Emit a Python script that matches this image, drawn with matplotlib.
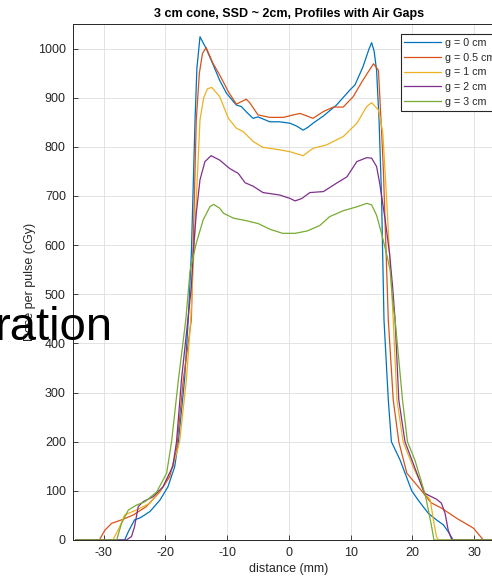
import matplotlib
matplotlib.use("Agg")
import matplotlib.pyplot as plt

plt.rcParams['font.family'] = ['Liberation Sans', 'DejaVu Sans']
plt.rcParams['axes.unicode_minus'] = False

title = "3 cm cone, SSD ~ 2cm, Profiles with Air Gaps"
xlabel = "distance (mm)"
ylabel = "Dose per pulse (cGy)"
labels = ["g = 0 cm", "g = 0.5 cm", "g = 1 cm", "g = 2 cm", "g = 3 cm"]
colors = ["#0072BD", "#D95319", "#EDB120", "#7E2F8E", "#77AC30"]
xticks = [-30, -20, -10, 0, 10, 20, 30]
yticks = [0, 100, 200, 300, 400, 500, 600, 700, 800, 900, 1000]

x_g0 = [-34.5, -26.6, -26.0, -25.0, -24.1, -22.5, -20.9, -19.6, -18.5, -17.9, -16.9, -16.3,
        -15.8, -15.5, -15.2, -14.9, -14.4, -13.4, -12.3, -11.2, -10.1, -8.5, -7.7, -6.8,
        -5.8, -5.0, -3.1, -1.5, 0.2, 1.3, 2.3, 3.1, 3.9, 5.6, 7.7, 9.9, 10.7, 12.0, 13.0,
        13.4, 13.8, 14.2, 14.6, 15.0, 15.4, 16.1, 16.6, 18.0, 19.9, 21.0, 22.6, 24.0, 25.0,
        25.8, 26.6, 34.5]
y_g0 = [0, 0, 17, 41, 45, 58, 81, 108, 149, 200, 326, 448,
        583, 719, 855, 960, 1024, 1000, 968, 935, 909, 885, 882, 870,
        858, 861, 851, 851, 848, 842, 834, 840, 848, 863, 885, 916, 926, 963, 1000,
        1012, 995, 956, 855, 700, 448, 285, 200, 163, 100, 80, 54, 40, 31,
        17, 0, 0]

x_g05 = [-34.5, -30.7, -29.8, -28.7, -27.1, -25.2, -23.1, -20.9, -19.3, -18.2, -17.1, -15.8,
         -15.0, -14.5, -14.0, -13.4, -12.3, -11.2, -9.8, -8.5, -7.7, -6.9, -6.3, -5.0,
         -3.1, -0.9, 0.7, 1.8, 2.9, 3.9, 5.6, 7.2, 8.8, 10.4, 12.0, 13.7, 14.5, 15.0,
         15.3, 16.1, 16.9, 17.8, 19.1, 21.5, 23.0, 24.7, 27.2, 29.9, 31.5, 34.5]
y_g05 = [0, 0, 20, 34, 41, 51, 68, 98, 129, 183, 326, 448,
         855, 950, 990, 1002, 970, 946, 912, 887, 892, 897, 889, 865,
         860, 860, 865, 868, 863, 858, 872, 881, 881, 902, 936, 969, 956, 834,
         753, 448, 285, 200, 136, 100, 76, 65, 44, 24, 0, 0]

x_g1 = [-34.5, -28.5, -27.4, -26.6, -24.7, -22.5, -20.4, -18.8, -17.7, -16.6, -15.9, -14.4,
        -13.8, -13.2, -12.5, -11.2, -9.8, -8.5, -7.4, -5.8, -4.2, -1.5, 0.2, 2.3, 3.9,
        6.1, 8.8, 11.0, 12.6, 13.4, 14.5, 15.2, 15.8, 16.4, 16.9, 17.5, 18.5, 20.1, 21.2,
        21.8, 22.9, 23.4, 23.9, 24.2, 34.5]
y_g1 = [0, 0, 27, 51, 61, 75, 108, 149, 200, 326, 448, 855,
        900, 918, 921, 902, 858, 838, 831, 811, 799, 794, 790, 782, 797,
        804, 821, 848, 882, 890, 875, 830, 700, 560, 448, 285, 200, 149, 120,
        100, 81, 41, 7, 0, 0]

x_g2 = [-34.5, -26.3, -25.5, -25.0, -24.4, -23.6, -22.0, -20.4, -18.8, -18.2, -17.4, -16.6,
        -15.8, -15.5, -15.0, -14.4, -13.6, -12.6, -11.2, -9.6, -8.2, -7.1, -5.8, -4.2,
        -1.5, 0.2, 1.0, 2.1, 3.4, 5.6, 7.7, 9.4, 11.0, 12.6, 13.4, 14.2, 14.7, 15.6,
        16.3, 16.8, 17.2, 17.8, 18.8, 20.3, 21.8, 22.0, 23.9, 24.7, 25.3, 25.8, 26.4, 34.5]
y_g2 = [0, 0, 7, 27, 68, 78, 88, 108, 150, 200, 326, 420,
        515, 583, 665, 733, 770, 782, 773, 756, 746, 727, 720, 707,
        702, 695, 690, 695, 707, 709, 726, 739, 770, 778, 777, 760, 726, 651,
        583, 515, 448, 285, 200, 150, 100, 95, 83, 75, 54, 20, 0, 0]

x_g3 = [-34.5, -27.9, -27.1, -26.0, -24.7, -23.3, -21.4, -19.8, -19.0, -17.9, -16.7, -16.0,
        -15.0, -13.9, -12.8, -12.2, -11.2, -10.6, -9.0, -7.0, -5.0, -3.0, -1.0, 1.0, 3.0,
        5.0, 6.6, 8.8, 11.0, 12.6, 13.4, 14.2, 15.0, 15.8, 16.4, 16.9, 17.2, 18.4, 19.2,
        20.4, 21.8, 22.2, 22.6, 23.0, 23.5, 34.5]
y_g3 = [0, 0, 34, 61, 71, 78, 98, 136, 200, 326, 448, 549,
        604, 651, 678, 683, 675, 665, 655, 650, 644, 632, 624, 624, 629,
        640, 658, 670, 678, 685, 682, 661, 624, 583, 549, 475, 448, 285, 200,
        163, 104, 85, 60, 35, 0, 0]

series = [(x_g0, y_g0), (x_g05, y_g05), (x_g1, y_g1), (x_g2, y_g2), (x_g3, y_g3)]

W, H = 492, 580
fig = plt.figure(figsize=(W / 100, H / 100), dpi=100)
L, R, T, B = 72.8, 505.0, 24.0, 540.0
ax = fig.add_axes([L / W, 1 - B / H, (R - L) / W, (B - T) / H])

for (xs, ys), c, lab in zip(series, colors, labels):
    ax.plot(xs, ys, color=c, lw=0.9, label=lab)

ax.set_xlim(-35, 35)
ax.set_ylim(0, 1050)
ax.set_xticks(xticks)
ax.set_yticks(yticks)
axc = "#262626"
ax.tick_params(direction="in", length=3.5, width=0.6, colors=axc, labelsize=9, pad=5)
for s in ax.spines.values():
    s.set_color(axc)
    s.set_linewidth(0.7)
ax.grid(True, color="#dedede", lw=0.6)
ax.set_axisbelow(True)

ax.set_title(title, fontsize=9, fontweight="bold", color="#000000", pad=5)
ax.set_xlabel(xlabel, fontsize=9, color=axc)
ax.set_ylabel(ylabel, fontsize=9, color=axc)
ax.xaxis.set_label_coords(0.5, -0.045)
ax.yaxis.set_label_coords(-0.086, 0.5)

leg = ax.legend(loc="upper left", bbox_to_anchor=((400.7 - L) / (R - L), (B - 34) / (B - T)),
                borderaxespad=0, fontsize=7.7, handlelength=3.45, handletextpad=0.3,
                borderpad=0.35, labelspacing=0.45, fancybox=False, framealpha=1)
leg.get_frame().set_edgecolor(axc)
leg.get_frame().set_linewidth(0.8)
for t in leg.get_texts():
    t.set_color(axc)

fig.text(113 / W, 1 - 340 / H, "ration", fontsize=34, color="black",
         ha="right", va="baseline", zorder=10)

fig.savefig("out.png", dpi=100)
